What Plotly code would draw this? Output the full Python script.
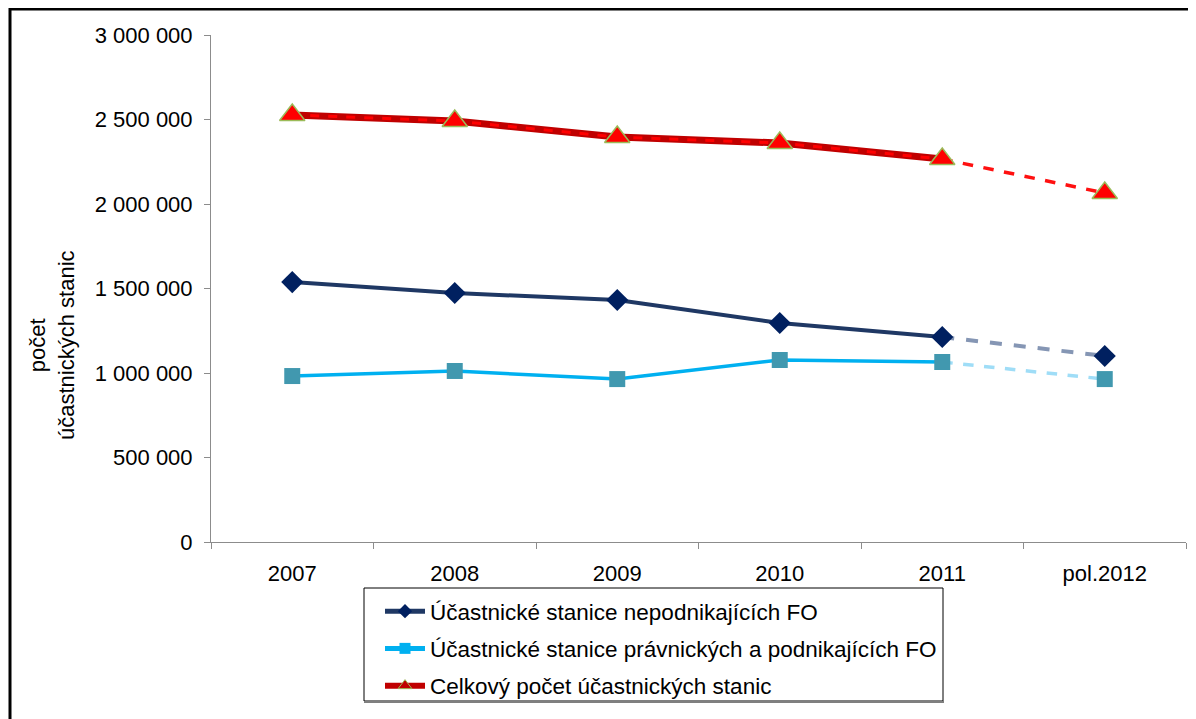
import plotly.graph_objects as go

categories = ["2007", "2008", "2009", "2010", "2011", "pol.2012"]
nepodnikajici = [1538000, 1473000, 1432000, 1296000, 1213000, 1101000]
pravnicke = [982000, 1012000, 964000, 1077000, 1065000, 964000]
celkem = [2527000, 2491000, 2396000, 2361000, 2266000, 2065000]
ytick_vals = [0, 500000, 1000000, 1500000, 2000000, 2500000, 3000000]
ytick_text = ["0", "500 000", "1 000 000", "1 500 000", "2 000 000", "2 500 000", "3 000 000"]

names = ["Účastnické stanice nepodnikajících FO",
         "Účastnické stanice právnických a podnikajících FO",
         "Celkový počet účastnických stanic"]

FONT = "Liberation Sans, Arial, sans-serif"
OFF = 8  # page body margin
W, H = 1196 - OFF, 719 - OFF
# plot area in page pixels: x 211..1186, y 35..542
L, R, T, B = 211 - OFF, 1196 - 1186, 35 - OFF, 719 - 542
PW, PH = W - L - R, H - T - B

def px(x):
    return (x - OFF - L) / PW

def py(y):
    return (H - B - (y - OFF)) / PH

fig = go.Figure()

# dashed projection segments (2011 -> pol.2012)
fig.add_trace(go.Scatter(x=categories[4:], y=nepodnikajici[4:], mode="lines",
                         line=dict(color="#8596B4", width=4, dash="dash"),
                         showlegend=False, hoverinfo="skip"))
fig.add_trace(go.Scatter(x=categories[4:], y=pravnicke[4:], mode="lines",
                         line=dict(color="#9FDDF7", width=3.5, dash="dash"),
                         showlegend=False, hoverinfo="skip"))
fig.add_trace(go.Scatter(x=categories[4:], y=celkem[4:], mode="lines",
                         line=dict(color="#FF1010", width=3.5, dash="dash"),
                         showlegend=False, hoverinfo="skip"))

# solid series 2007-2011
fig.add_trace(go.Scatter(x=categories[:5], y=nepodnikajici[:5], mode="lines",
                         line=dict(color="#1F3864", width=4),
                         showlegend=False, hoverinfo="skip"))
fig.add_trace(go.Scatter(x=categories[:5], y=pravnicke[:5], mode="lines",
                         line=dict(color="#00B0F0", width=3.5),
                         showlegend=False, hoverinfo="skip"))
fig.add_trace(go.Scatter(x=categories[:5], y=celkem[:5], mode="lines",
                         line=dict(color="#C00000", width=7),
                         showlegend=False, hoverinfo="skip"))
fig.add_trace(go.Scatter(x=categories[:5], y=celkem[:5], mode="lines",
                         line=dict(color="#FF0000", width=3, dash="dash"),
                         showlegend=False, hoverinfo="skip"))

# markers (all years)
fig.add_trace(go.Scatter(x=categories, y=nepodnikajici, mode="markers",
                         marker=dict(symbol="diamond", size=17, color="#002060"),
                         showlegend=False, hoverinfo="skip"))
fig.add_trace(go.Scatter(x=categories, y=pravnicke, mode="markers",
                         marker=dict(symbol="square", size=16, color="#4198AF"),
                         showlegend=False, hoverinfo="skip"))
fig.add_trace(go.Scatter(x=categories, y=celkem, mode="markers",
                         marker=dict(symbol="triangle-up", size=22, color="#FF0000",
                                     line=dict(color="#9BBB59", width=1.5)),
                         showlegend=False, hoverinfo="skip"))

# legend entries
fig.add_trace(go.Scatter(x=[None], y=[None], mode="lines+markers", name=names[0],
                         legendgroup="a",
                         line=dict(color="#1F3864", width=5),
                         marker=dict(symbol="diamond", size=11, color="#002060"),
                         hoverinfo="skip"))
fig.add_trace(go.Scatter(x=[None], y=[None], mode="lines+markers", name=names[1],
                         legendgroup="b",
                         line=dict(color="#00B0F0", width=5),
                         marker=dict(symbol="square", size=11, color="#00B0F0"),
                         hoverinfo="skip"))
fig.add_trace(go.Scatter(x=[None], y=[None], mode="lines+markers", name=names[2],
                         legendgroup="c",
                         line=dict(color="#C00000", width=6),
                         marker=dict(symbol="triangle-up", size=12, color="#C00000",
                                     line=dict(color="#9BBB59", width=1)),
                         hoverinfo="skip"))

fig.update_layout(
    width=W, height=H,
    margin=dict(l=L, r=R, t=T, b=B, autoexpand=False),
    paper_bgcolor="white", plot_bgcolor="white",
    font=dict(family=FONT, size=22, color="#000000"),
    showlegend=True,
    legend=dict(x=px(380), y=py(590), xanchor="left", yanchor="top",
                borderwidth=0, bgcolor="rgba(0,0,0,0)",
                font=dict(family=FONT, size=22.5, color="#000000"),
                tracegroupgap=5, itemwidth=40),
    xaxis=dict(type="category", categoryorder="array", categoryarray=categories,
               range=[-0.5, 5.5], showgrid=False, zeroline=False,
               showline=True, linecolor="#8C8C8C", linewidth=1,
               ticks="outside", tickson="boundaries", ticklen=6, tickcolor="#8C8C8C",
               ticklabelstandoff=12, tickfont=dict(family=FONT, size=22)),
    yaxis=dict(range=[0, 3000000], tickvals=ytick_vals, ticktext=ytick_text,
               showgrid=False, zeroline=False,
               showline=True, linecolor="#8C8C8C", linewidth=1,
               ticks="outside", ticklen=6, tickcolor="#8C8C8C",
               ticklabelstandoff=7, tickfont=dict(family=FONT, size=22)),
    annotations=[dict(text="počet<br>účastnických stanic", x=px(52), y=py(345),
                      xref="paper", yref="paper", xanchor="center", yanchor="middle",
                      showarrow=False, textangle=-90,
                      font=dict(family=FONT, size=22, color="#000000"))],
    shapes=[
        # outer frame (top and left edges)
        dict(type="line", xref="paper", yref="paper", x0=px(9), x1=px(1210),
             y0=py(9), y1=py(9), line=dict(color="#000000", width=3)),
        dict(type="line", xref="paper", yref="paper", x0=px(10), x1=px(10),
             y0=py(8), y1=py(740), line=dict(color="#000000", width=3)),
        # legend box
        dict(type="rect", xref="paper", yref="paper", x0=px(364), x1=px(943),
             y0=py(701), y1=py(588), line=dict(color="#000000", width=1),
             fillcolor="white", layer="below"),
        dict(type="line", xref="paper", yref="paper", x0=px(364), x1=px(944),
             y0=py(702), y1=py(702), line=dict(color="#7F7F7F", width=2)),
    ],
)

fig.write_html("out.html")
